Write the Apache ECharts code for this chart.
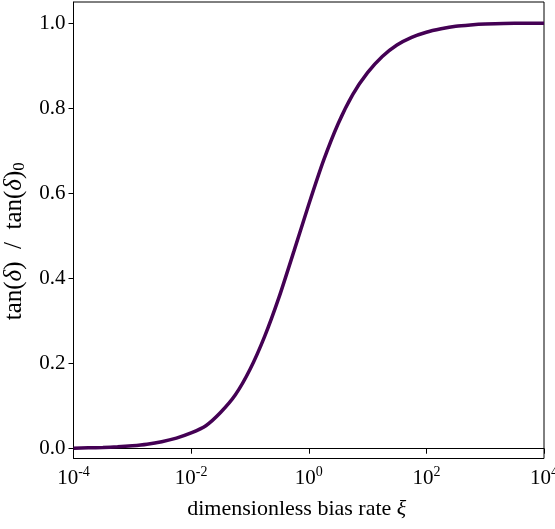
<!DOCTYPE html>
<html>
<head>
<meta charset="utf-8">
<script src="https://cdn.jsdelivr.net/npm/echarts@6/dist/echarts.min.js"></script>
<style>html,body{margin:0;padding:0;background:#fff;}#c{width:555px;height:529px;}</style>
</head>
<body>
<div id="c"></div>
<script>
// dimensionless bias rate xi (quarter-decade steps)
const xiValues = [1e-4, 1.78e-4, 3.16e-4, 5.62e-4, 1e-3, 1.78e-3, 3.16e-3, 5.62e-3,
  1e-2, 1.78e-2, 3.16e-2, 5.62e-2, 0.1, 0.178, 0.316, 0.562,
  1, 1.78, 3.16, 5.62, 10, 17.8, 31.6, 56.2,
  100, 178, 316, 562, 1000, 3160, 1e4];
// tan(delta)/tan(delta)_0
const ratioValues = [0.001, 0.002, 0.003, 0.0045, 0.007, 0.0107, 0.0165, 0.025,
  0.037, 0.054, 0.085, 0.126, 0.186, 0.264, 0.358, 0.465,
  0.574, 0.677, 0.764, 0.833, 0.884, 0.922, 0.949, 0.967,
  0.979, 0.987, 0.993, 0.996, 0.998, 1.0, 1.0];
const xTicks = [1e-4, 1e-2, 1, 1e2, 1e4];
const yTicks = [0, 0.2, 0.4, 0.6, 0.8, 1.0];

const serif = '"Liberation Serif", "Times New Roman", serif';
const data = xiValues.map((x, i) => [x, ratioValues[i]]);

const chart = echarts.init(document.getElementById('c'), null, {renderer: 'canvas'});
chart.setOption({
  animation: false,
  backgroundColor: '#fff',
  grid: {left: 73.5, right: 11, top: 2, bottom: 70.5, containLabel: false, outerBoundsMode: 'none',
    show: true, borderColor: '#000', borderWidth: 1, backgroundColor: 'transparent'},
  xAxis: {
    type: 'log', logBase: 10, min: 1e-4, max: 1e4,
    name: '{n|dimensionless bias rate }{i|ξ}',
    nameLocation: 'middle', nameGap: 40,
    nameTextStyle: {
      padding: [0, 24, 0, 0],
      rich: {
        n: {fontFamily: serif, fontSize: 22, color: '#000'},
        i: {fontFamily: serif, fontSize: 22, fontStyle: 'italic', color: '#000'}
      }
    },
    axisLine: {show: true, lineStyle: {color: '#000', width: 1}},
    axisTick: {show: true, inside: false, length: 5, customValues: xTicks, lineStyle: {color: '#000', width: 1}},
    minorTick: {show: false},
    splitLine: {show: false},
    axisLabel: {
      customValues: xTicks,
      margin: 7,
      hideOverlap: false,
      formatter: function (v) {
        const e = Math.round(Math.log10(v));
        return '{b|10}{s|' + e + '}';
      },
      rich: {
        b: {fontFamily: serif, fontSize: 21, color: '#000'},
        s: {fontFamily: serif, fontSize: 14, color: '#000', padding: [0, 0, 12, 0]}
      }
    }
  },
  yAxis: {
    type: 'value', min: -0.023, max: 1.05,
    name: '{n|tan(}{i|δ}{n|)  /  tan(}{i|δ}{n|)}{sub|0}',
    nameLocation: 'middle', nameGap: 43, nameRotate: 90,
    nameTextStyle: {
      padding: [0, 22, 0, 0],
      rich: {
        n: {fontFamily: serif, fontSize: 25, color: '#000'},
        i: {fontFamily: serif, fontSize: 25, fontStyle: 'italic', color: '#000'},
        sub: {fontFamily: serif, fontSize: 17, color: '#000', padding: [10, 0, 0, 0]}
      }
    },
    axisLine: {show: true, lineStyle: {color: '#000', width: 1}},
    axisTick: {show: true, inside: false, length: 5, customValues: yTicks, lineStyle: {color: '#000', width: 1}},
    splitLine: {show: false},
    axisLabel: {
      customValues: yTicks,
      margin: 8,
      fontFamily: serif, fontSize: 21, color: '#000',
      formatter: function (v) { return v.toFixed(1); }
    }
  },
  series: [{
    type: 'line',
    data: data,
    smooth: 0.2,
    showSymbol: false,
    lineStyle: {color: '#440154', width: 3.5},
    clip: true
  }]
});
</script>
</body>
</html>
